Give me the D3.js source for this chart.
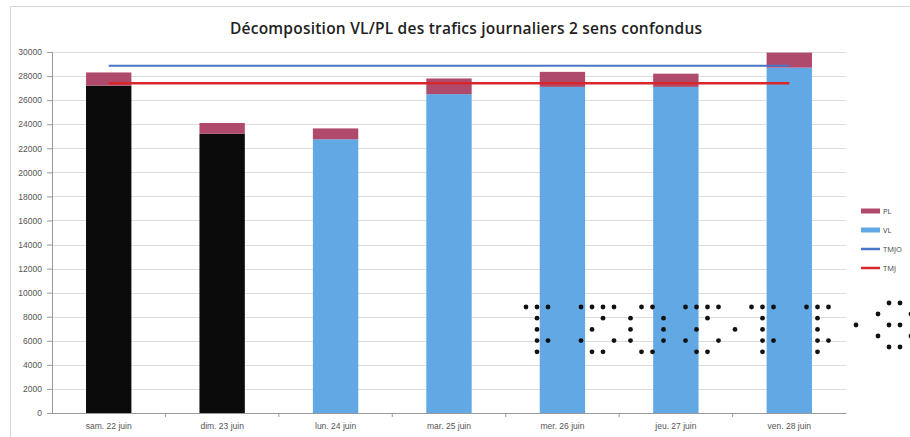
<!DOCTYPE html>
<html>
<head>
<meta charset="utf-8">
<script src="https://cdn.jsdelivr.net/npm/d3@7"></script>
<style>
  body { margin: 0; background: #fff; }
  svg { display: block; font-family: "Open Sans", sans-serif; }
</style>
</head>
<body>
<div id="chart"></div>
<script>
// Chart values
const DAYS = ["sam. 22 juin", "dim. 23 juin", "lun. 24 juin", "mar. 25 juin",
  "mer. 26 juin", "jeu. 27 juin", "ven. 28 juin"];
const DAY_TYPE = ["weekend", "weekend", "ouvre", "ouvre", "ouvre", "ouvre", "ouvre"];
const VL = [27200, 23200, 22750, 26500, 27100, 27100, 28700];
const PL = [1100, 900, 900, 1300, 1250, 1100, 1250];
const TMJO = [28850, 28850, 28850, 28850, 28850, 28850, 28850];
const TMJ = [27400, 27400, 27400, 27400, 27400, 27400, 27400];
const Y_TICKS = [0, 2000, 4000, 6000, 8000, 10000, 12000, 14000, 16000,
  18000, 20000, 22000, 24000, 26000, 28000, 30000];
const LEGEND = ["PL", "VL", "TMJO", "TMJ"];

// dotted overlay stamped over the picture (grid columns per row)
const STAMP_ROWS = [
  [0, 2, 4, 10, 12, 14, 16, 21, 23, 29, 31, 33, 35, 41, 43, 45, 51, 53, 55],
  [2, 14, 19, 25, 33, 43, 53],
  [2, 12, 19, 25, 31, 38, 43, 53],
  [2, 4, 10, 16, 19, 25, 29, 35, 43, 45, 53, 55],
  [2, 12, 14, 21, 23, 31, 33, 43, 53]
];
const STAMP_TAIL = [[66, 68], [64, 70], [60, 66, 68], [64, 70], [66, 68]];

const COLORS = { PL: "#b04a6c", VL: "#62a8e4", TMJO: "#4a74c8", TMJ: "#d8262b", weekend: "#0b0b0b" };

const W = 910, H = 437;
const margin = { top: 52, left: 52, right: 64, bottom: 24 };

const svg = d3.select("#chart").append("svg")
  .attr("width", W).attr("height", H);

// outer frame
svg.append("rect")
  .attr("x", 10.5).attr("y", 6.5)
  .attr("width", W).attr("height", H)
  .attr("fill", "none").attr("stroke", "#d6d6d6");

svg.append("text")
  .attr("x", 466).attr("y", 34)
  .attr("text-anchor", "middle")
  .attr("font-size", 15.5).attr("font-weight", 600)
  .attr("fill", "#222")
  .attr("textLength", 472)
  .text("Décomposition VL/PL des trafics journaliers 2 sens confondus");

const x = d3.scaleBand()
  .domain(DAYS)
  .range([margin.left, W - margin.right])
  .paddingInner(0.6)
  .paddingOuter(0.3);

const y = d3.scaleLinear()
  .domain([0, 30000])
  .range([H - margin.bottom, margin.top]);

// gridlines
svg.append("g")
  .selectAll("line")
  .data(Y_TICKS.slice(1))
  .join("line")
    .attr("x1", margin.left).attr("x2", W - margin.right)
    .attr("y1", d => Math.round(y(d)) + 0.5).attr("y2", d => Math.round(y(d)) + 0.5)
    .attr("stroke", "#dcdcdc");

// y axis
const yAxis = svg.append("g")
  .attr("transform", "translate(" + margin.left + ",0)")
  .call(d3.axisLeft(y).tickValues(Y_TICKS).tickFormat(d3.format("d")).tickSize(5).tickPadding(5));
yAxis.selectAll("text").attr("font-size", 8.5).attr("fill", "#555");
yAxis.selectAll("line, path").attr("stroke", "#999");

// stacked bars
const rows = DAYS.map((d, i) => ({ day: d, type: DAY_TYPE[i], VL: VL[i], PL: PL[i] }));
const stacked = d3.stack().keys(["VL", "PL"])(rows);

svg.append("g")
  .selectAll("g")
  .data(stacked)
  .join("g")
  .selectAll("rect")
  .data(s => s.map(p => ({ key: s.key, p })))
  .join("rect")
    .attr("x", d => x(d.p.data.day))
    .attr("width", x.bandwidth())
    .attr("y", d => y(d.p[1]))
    .attr("height", d => y(d.p[0]) - y(d.p[1]))
    .attr("fill", d => d.key === "VL" && d.p.data.type === "weekend" ? COLORS.weekend : COLORS[d.key]);

// x axis
const xAxis = svg.append("g")
  .attr("transform", "translate(0," + (H - margin.bottom) + ")")
  .call(d3.axisBottom(x).tickSize(0).tickPadding(10));
xAxis.selectAll("text").attr("font-size", 8.5).attr("fill", "#555");
xAxis.select("path").attr("stroke", "#999");
// small ticks between categories
xAxis.append("g")
  .selectAll("line")
  .data(DAYS.slice(1))
  .join("line")
    .attr("x1", d => x(d) - x.step() * x.paddingInner() / 2)
    .attr("x2", d => x(d) - x.step() * x.paddingInner() / 2)
    .attr("y1", 0).attr("y2", 4)
    .attr("stroke", "#999");

// reference lines
const line = d3.line()
  .x((d, i) => x(DAYS[i]) + x.bandwidth() / 2)
  .y(d => y(d));

svg.append("path")
  .attr("d", line(TMJO))
  .attr("fill", "none").attr("stroke", COLORS.TMJO).attr("stroke-width", 2);
svg.append("path")
  .attr("d", line(TMJ))
  .attr("fill", "none").attr("stroke", COLORS.TMJ).attr("stroke-width", 2.5);

// legend
const legend = svg.append("g")
  .attr("transform", "translate(861,211)");
const item = legend.selectAll("g")
  .data(LEGEND)
  .join("g")
    .attr("transform", (d, i) => "translate(0," + i * 19 + ")");
item.append("line")
  .attr("x1", 0).attr("x2", 19)
  .attr("stroke", d => COLORS[d])
  .attr("stroke-width", d => (d === "PL" || d === "VL") ? 5 : 2.5);
item.append("text")
  .attr("x", 22).attr("dy", "0.35em")
  .attr("font-size", 7.5).attr("fill", "#444")
  .text(d => d);

// dotted stamp overlay
const stamp = svg.append("g").attr("fill", "#111");
const unit = 5.5;
STAMP_ROWS.forEach((cols, r) => {
  stamp.selectAll(null)
    .data(cols)
    .join("circle")
      .attr("cx", c => 526 + c * unit)
      .attr("cy", 307 + r * 11.2)
      .attr("r", 2.4);
});
STAMP_TAIL.forEach((cols, r) => {
  stamp.selectAll(null)
    .data(cols)
    .join("circle")
      .attr("cx", c => 526 + c * unit)
      .attr("cy", 303 + r * 11)
      .attr("r", 2.4);
});
</script>
</body>
</html>
